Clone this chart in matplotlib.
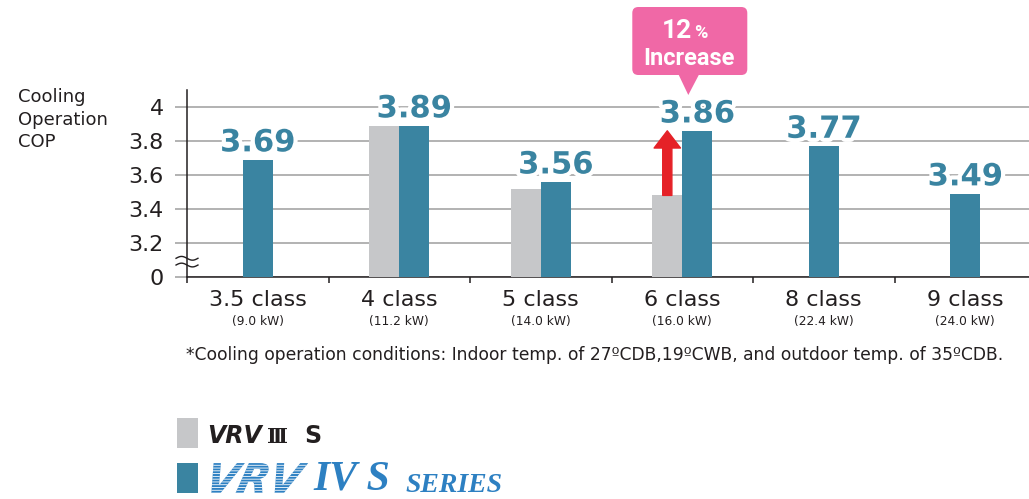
import matplotlib
matplotlib.use("Agg")
import matplotlib.pyplot as plt
import matplotlib.patheffects as pe
import numpy as np
from matplotlib.patches import Rectangle, FancyBboxPatch, Polygon, FancyArrowPatch, PathPatch
from matplotlib.textpath import TextPath
from matplotlib.font_manager import FontProperties
from matplotlib.transforms import Affine2D, IdentityTransform

# cooling COP per capacity class
classes = ["3.5 class", "4 class", "5 class", "6 class", "8 class", "9 class"]
capacity = ["(9.0 kW)", "(11.2 kW)", "(14.0 kW)", "(16.0 kW)", "(22.4 kW)", "(24.0 kW)"]
vrv3s_cop = [np.nan, 3.89, 3.52, 3.48, np.nan, np.nan]
vrv4s_cop = [3.69, 3.89, 3.56, 3.86, 3.77, 3.49]
y_ticks = [0, 3.2, 3.4, 3.6, 3.8, 4.0]
y_labels = ["0", "3.2", "3.4", "3.6", "3.8", "4"]
increase_pct = "12"

W, H = 1029, 499
GRAY = "#c6c7c9"
TEAL = "#3a84a1"
GRID = "#9e9e9e"
INK = "#231f20"
PINK = "#f068a6"
RED = "#e52127"
BLUE = "#2d80c2"

plt.rcParams["font.family"] = "DejaVu Sans"
plt.rcParams["hatch.linewidth"] = 0.6

fig = plt.figure(figsize=(W / 100, H / 100), dpi=100)


def fx(px):
    return px / W


def fy(py):
    return 1 - py / H


# broken y axis: 0..3.2 squeezed into the bottom step
def fwd(y):
    y = np.asarray(y, dtype=float)
    return np.where(y >= 3.2, y, 3.0 + y / 16.0)


def inv(y):
    y = np.asarray(y, dtype=float)
    return np.where(y >= 3.2, y, (y - 3.0) * 16.0)


ax = fig.add_axes([fx(187), fy(277), fx(W - 187), 187 / H])
ax.set_yscale("function", functions=(fwd, inv))
ax.set_ylim(0, 4.1)
ax.set_xlim(-0.5, 5.45)

bw = 0.212
x = np.arange(len(classes))
label_x = []
for i in x:
    g, t = vrv3s_cop[i], vrv4s_cop[i]
    if np.isnan(g):
        ax.bar(i, t, width=bw, color=TEAL, zorder=3)
        label_x.append(i)
    else:
        ax.bar(i - bw / 2, g, width=bw, color=GRAY, zorder=3)
        ax.bar(i + bw / 2, t, width=bw, color=TEAL, zorder=3)
        label_x.append(i + bw / 2)

for lx, v in zip(label_x, vrv4s_cop):
    ax.annotate(f"{v:.2f}", (lx, v), xytext=(0, 6), textcoords="offset points",
                ha="center", va="baseline", fontsize=22, fontweight="bold", color=TEAL,
                zorder=5, path_effects=[pe.withStroke(linewidth=6, foreground="white")])

# axes styling
ax.spines[["top", "right"]].set_visible(False)
for s in ("left", "bottom"):
    ax.spines[s].set_linewidth(1.1)
    ax.spines[s].set_color(INK)
ax.set_yticks(y_ticks)
ax.set_yticklabels(y_labels)
ax.yaxis.set_minor_locator(matplotlib.ticker.NullLocator())
ax.tick_params(axis="y", length=8.6, width=1.1, color=GRID, labelsize=16,
               labelcolor=INK, pad=8)
ax.grid(axis="y", color=GRID, linewidth=1.1, zorder=0)
ax.set_axisbelow(True)

ax.set_xticks(x)
ax.set_xticklabels([])
ax.set_xticks(np.arange(-0.5, 5.0, 1.0), minor=True)
ax.tick_params(axis="x", which="major", length=0)
ax.tick_params(axis="x", which="minor", length=4.5, width=1.1, color=INK)

xt = ax.get_xaxis_transform()
for i, (c, k) in enumerate(zip(classes, capacity)):
    ax.text(i, -0.123, c, transform=xt, ha="center", va="center", fontsize=16, color=INK)
    ax.text(i, -0.236, k, transform=xt, ha="center", va="center", fontsize=8.8, color=INK)

# axis break mark
t = np.linspace(0, 1, 40)
bx = -0.013 + 0.026 * t
for yb in (0.064, 0.1):
    ax.plot(bx, yb + 0.01 * np.sin(2 * np.pi * t), color=INK, lw=1.0,
            transform=ax.transAxes, clip_on=False, zorder=6)

# red arrow from old to new COP in the 6 class
ax.add_patch(FancyArrowPatch((3 - bw / 2, vrv3s_cop[3]), (3 - bw / 2, vrv4s_cop[3]),
                             arrowstyle="simple,head_length=0.62,head_width=0.95,tail_width=0.33",
                             mutation_scale=20, color=RED, shrinkA=0, shrinkB=0, zorder=6))

# y axis title
fig.text(fx(18), fy(88), "Cooling\nOperation\nCOP", ha="left", va="top", fontsize=13,
         color=INK, linespacing=1.33)

# callout above the 6 class
fig.canvas.draw()
cx = ax.transData.transform((3, 3.5))[0] + 7
box = FancyBboxPatch((cx - 57, H - 75), 115, 68, boxstyle="round,pad=0,rounding_size=6",
                     transform=IdentityTransform(), facecolor=PINK, edgecolor="none")
fig.add_artist(box)
fig.add_artist(Polygon([(cx - 11, H - 74), (cx + 10, H - 74), (cx - 1, H - 95)],
                       closed=True, transform=IdentityTransform(), facecolor=PINK, edgecolor="none"))
fig.text(fx(cx + 3), fy(38), increase_pct, ha="right", va="baseline", fontsize=19,
         fontweight="bold", color="white", family="Roboto")
fig.text(fx(cx + 5), fy(38), "%", ha="left", va="baseline", fontsize=13,
         fontweight="bold", color="white", family="Roboto")
fig.text(fx(cx), fy(65), "Increase", ha="center", va="baseline", fontsize=17,
         fontweight="bold", color="white", family="Roboto")

# footnote
fig.text(fx(186), fy(355), "*Cooling operation conditions: Indoor temp. of 27ºCDB,19ºCWB, "
         "and outdoor temp. of 35ºCDB.", ha="left", va="center", fontsize=12.3, color=INK)

# legend
fig.add_artist(Rectangle((fx(177), fy(448)), fx(21), 30 / H, transform=fig.transFigure,
                         facecolor=GRAY, edgecolor="none"))
fig.add_artist(Rectangle((fx(177), fy(493)), fx(21), 30 / H, transform=fig.transFigure,
                         facecolor=TEAL, edgecolor="none"))
fig.text(fx(207), fy(443), "VRV", ha="left", va="baseline", fontsize=17,
         fontweight="bold", style="italic", color=INK)
fig.text(fx(267), fy(443), "\u2162", ha="left", va="baseline", fontsize=15,
         fontweight="bold", family="DejaVu Serif", color=INK)
fig.text(fx(304), fy(443), "S", ha="left", va="baseline", fontsize=17,
         fontweight="bold", color=INK)

vrv_path = TextPath((0, 0), "VRV", size=41,
                    prop=FontProperties(family="DejaVu Sans", weight="bold", style="italic"))
vrv_path = Affine2D().skew_deg(14, 0).translate(203, H - 493).transform_path(vrv_path)
fig.add_artist(PathPatch(vrv_path, facecolor=BLUE, edgecolor="white", hatch="------",
                         lw=0, transform=IdentityTransform()))
fig.text(fx(313), fy(498.5), "IV S", ha="left", va="bottom", fontsize=30,
         fontweight="bold", style="italic", family="Liberation Serif", color=BLUE)
fig.text(fx(405), fy(498.5), "SERIES", ha="left", va="bottom", fontsize=20,
         fontweight="bold", style="italic", family="Liberation Serif", color=BLUE)

fig.savefig("out.png", dpi=100)
